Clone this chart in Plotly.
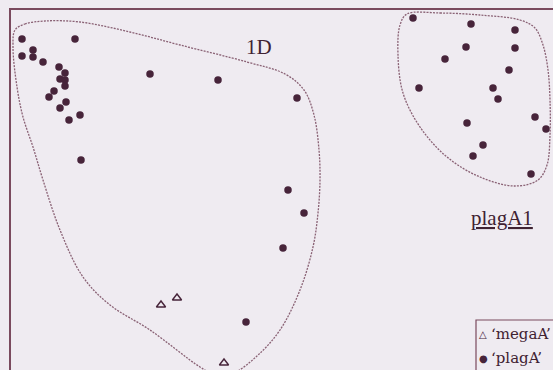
import plotly.graph_objects as go

# --- data -------------------------------------------------------------
# 'plagA' samples, group 1D
plag_1d_x = [22, 75, 22, 33, 33, 43, 59, 65, 60, 65, 65, 54, 49, 66, 60, 69, 80,
             81, 150, 218, 297, 288, 304, 283, 246]
plag_1d_y = [39, 39, 56, 50, 57, 62, 67, 73, 79, 80, 86, 91, 97, 102, 108, 120, 115,
             160, 74, 80, 98, 190, 213, 248, 322]

# 'plagA' samples, group plagA1
plag_a1_x = [413, 471, 515, 466, 515, 445, 509, 419, 493, 498, 535, 546, 467, 483, 473, 531]
plag_a1_y = [18, 24, 30, 47, 48, 59, 70, 88, 88, 99, 117, 129, 123, 145, 156, 174]

# 'megaA' samples
mega_x = [161, 177, 224]
mega_y = [305, 298, 363]

# group outlines
hull_1d_x = [15, 25, 45, 80, 130, 180, 247, 285, 304, 314, 319, 320, 318, 313, 300,
             280, 257, 233, 212, 200, 150, 110, 83, 60, 43, 33, 23, 17, 13, 15]
hull_1d_y = [30, 24, 21, 22, 32, 45, 62, 74, 90, 115, 150, 180, 213, 247, 290,
             330, 356, 373, 373, 367, 330, 305, 277, 230, 180, 147, 117, 87, 47, 30]

hull_a1_x = [407, 440, 480, 520, 535, 543, 548, 550, 550, 547, 538, 515, 480, 447,
             420, 403, 398, 400, 407]
hull_a1_y = [14, 13, 15, 20, 28, 45, 70, 100, 135, 165, 180, 186, 177, 157,
             127, 93, 55, 25, 14]

group_labels = ["1D", "plagA1"]
group_label_x = [259, 502]
group_label_y = [47, 218]

legend_names = ["\u2018megaA\u2019", "\u2018plagA\u2019"]
legend_keys = ["\u25b3", "\u25cf"]

# --- style ------------------------------------------------------------
bg = "#efebf1"
ink = "#47243a"
frame = "#7a4a5e"
outline = "#8a6275"
serif = "Liberation Serif, Times New Roman, serif"

X0, X1, Y0, Y1 = 11, 553, 370, 10   # axis ranges (x left->right, y top-down)

fig = go.Figure()

for hx, hy in [(hull_1d_x, hull_1d_y), (hull_a1_x, hull_a1_y)]:
    fig.add_trace(go.Scatter(
        x=hx, y=hy, mode="lines", showlegend=False, hoverinfo="skip",
        line=dict(color=outline, width=1.3, dash="2px,1.2px", shape="spline", smoothing=1.0),
    ))

fig.add_trace(go.Scatter(
    x=mega_x, y=mega_y, mode="markers", name=legend_names[0], showlegend=False,
    marker=dict(symbol="triangle-up-open", size=8, color=ink, line=dict(width=1.4, color=ink)),
))
fig.add_trace(go.Scatter(
    x=plag_1d_x + plag_a1_x, y=plag_1d_y + plag_a1_y, mode="markers",
    name=legend_names[1], showlegend=False,
    marker=dict(symbol="circle", size=7.5, color=ink),
))

for txt, lx, ly in zip(group_labels, group_label_x, group_label_y):
    label = "<u>%s</u>" % txt if txt == "plagA1" else txt
    fig.add_annotation(x=lx, y=ly, text=label, showarrow=False,
                       font=dict(family=serif, size=21, color="#3f2232"),
                       xanchor="center", yanchor="middle")

# key box in the lower right corner (runs off the edge of the frame)
def px_x(p):
    return (p - X0) / (X1 - X0)

def px_y(p):
    return (Y0 - p) / (Y0 - Y1)

fig.add_shape(type="rect", xref="paper", yref="paper",
              x0=px_x(476), x1=px_x(600), y0=px_y(400), y1=px_y(320),
              line=dict(color=frame, width=1.2), fillcolor=bg, layer="above")

for i, (key, name) in enumerate(zip(legend_keys, legend_names)):
    row_y = px_y(334 + 24 * i)
    fig.add_annotation(xref="paper", yref="paper", x=px_x(483), y=row_y, text=key,
                       showarrow=False, xanchor="center", yanchor="middle",
                       font=dict(family="DejaVu Sans", size=10, color=ink))
    fig.add_annotation(xref="paper", yref="paper", x=px_x(489), y=row_y, text=name,
                       showarrow=False, xanchor="left", yanchor="middle",
                       font=dict(family="DejaVu Serif", size=15, color="#3f2232"))

fig.update_layout(
    width=553, height=370,
    margin=dict(l=11, r=0, t=10, b=0, autoexpand=False),
    paper_bgcolor=bg, plot_bgcolor=bg,
    xaxis=dict(range=[X0, X1], side="top", showline=True, linecolor=frame, linewidth=1.6,
               showgrid=False, zeroline=False, showticklabels=False, ticks=""),
    yaxis=dict(range=[Y0, Y1], showline=True, linecolor=frame, linewidth=1.6,
               showgrid=False, zeroline=False, showticklabels=False, ticks=""),
    showlegend=False,
)

fig.write_html("out.html")
